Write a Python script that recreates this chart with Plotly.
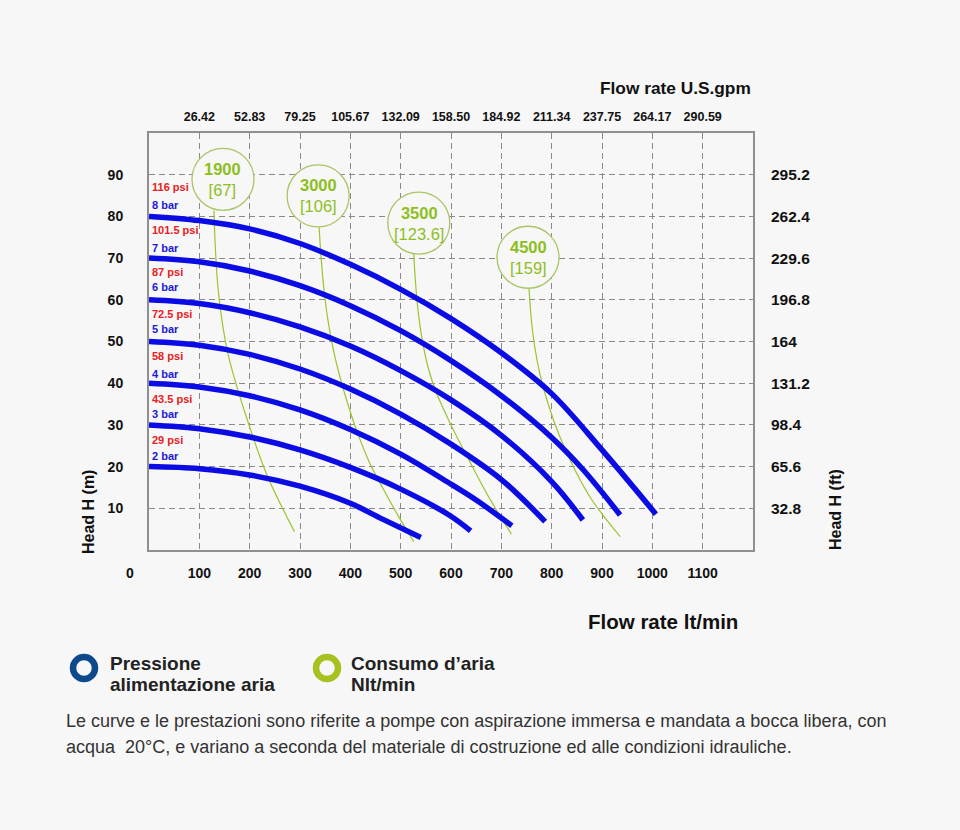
import plotly.graph_objects as go

# ---------------- data ----------------
flow_ticks = [100, 200, 300, 400, 500, 600, 700, 800, 900, 1000, 1100]
gpm_labels = ["26.42", "52.83", "79.25", "105.67", "132.09", "158.50", "184.92",
              "211.34", "237.75", "264.17", "290.59"]
head_ticks = [10, 20, 30, 40, 50, 60, 70, 80, 90]
ft_labels = ["32.8", "65.6", "98.4", "131.2", "164", "196.8", "229.6", "262.4", "295.2"]

# pressure curves (lt/min, m)
b8_x = [0, 100, 200, 300, 400, 500, 600, 700, 800, 900, 1007]
b8_y = [80, 79.0, 77.0, 73.5, 68.5, 62.5, 55.5, 47.3, 37.5, 24.0, 8.6]
b7_x = [0, 100, 200, 300, 400, 500, 600, 700, 800, 860, 936]
b7_y = [70, 69.1, 66.9, 63.4, 58.6, 52.6, 45.4, 37.0, 27.0, 19.6, 8.4]
b6_x = [0, 100, 200, 300, 400, 500, 600, 700, 800, 862]
b6_y = [60, 59.1, 56.9, 53.5, 48.9, 43.0, 36.0, 27.5, 16.4, 7.2]
b5_x = [0, 100, 200, 300, 400, 500, 600, 700, 787]
b5_y = [50, 49.1, 46.9, 43.4, 38.6, 32.6, 25.4, 16.9, 6.8]
b4_x = [0, 100, 200, 300, 400, 500, 600, 650, 721]
b4_y = [40, 39.1, 37.0, 33.6, 28.9, 23.0, 15.8, 12.0, 5.8]
b3_x = [0, 100, 200, 300, 400, 500, 596, 639]
b3_y = [30, 29.1, 27.1, 24.0, 19.8, 14.6, 8.4, 4.6]
b2_x = [0, 100, 200, 300, 400, 464, 540]
b2_y = [20, 19.5, 18.0, 15.3, 11.2, 7.4, 3.0]

pressure_x = [b8_x, b7_x, b6_x, b5_x, b4_x, b3_x, b2_x]
pressure_y = [b8_y, b7_y, b6_y, b5_y, b4_y, b3_y, b2_y]
bar_labels = ["8 bar", "7 bar", "6 bar", "5 bar", "4 bar", "3 bar", "2 bar"]
psi_labels = ["116 psi", "101.5 psi", "87 psi", "72.5 psi", "58 psi", "43.5 psi", "29 psi"]
bar_label_y = [82.7, 72.4, 63.0, 52.9, 42.1, 32.5, 22.6]
psi_label_y = [87.0, 76.7, 66.6, 56.7, 46.6, 36.3, 26.4]

# air consumption curves
g1900_x = [129, 132, 137, 145, 157, 175, 200, 236, 289]
g1900_y = [81.4, 72, 63, 55, 47, 39, 29.5, 17.5, 4.4]
g3000_x = [338, 342, 348, 357, 370, 390, 413, 438, 466, 496, 526]
g3000_y = [77.4, 70, 62, 54, 46, 37, 28.5, 21, 14.5, 8, 2]
g3500_x = [526, 529, 534, 542, 554, 570, 600, 636, 676, 720]
g3500_y = [71, 65, 58, 51, 44, 38, 30, 21.5, 12.5, 3.8]
g4500_x = [755, 759, 766, 777, 793, 815, 845, 880, 936]
g4500_y = [62.7, 56, 49, 42, 35, 27.5, 19.5, 12, 3.2]
air_x = [g1900_x, g3000_x, g3500_x, g4500_x]
air_y = [g1900_y, g3000_y, g3500_y, g4500_y]
air_main = ["1900", "3000", "3500", "4500"]
air_sub = ["[67]", "[106]", "[123.6]", "[159]"]
bubble_x = [147, 336, 536, 753]
bubble_y = [88.9, 84.9, 78.4, 70.2]

# ---------------- layout constants ----------------
W, H = 960, 830
L, R, T, B = 149, 753, 133, 550
BG = "#f7f7f7"
BLUE = "#0b0be4"
GREEN_LINE = "#9cc431"
GREEN_TXT = "#8dbf1e"
GREEN_CIRC = "#a9c564"
FONT = "Liberation Sans, Arial, sans-serif"


def px(xp):
    return (xp - L) / (R - L)


def py(yp):
    return (B - yp) / (B - T)


fig = go.Figure()

for xs, ys in zip(air_x, air_y):
    fig.add_trace(go.Scatter(x=xs, y=ys, mode="lines", line=dict(color=GREEN_LINE, width=1.2, shape="spline"),
                             hoverinfo="skip", showlegend=False))
for xs, ys in zip(pressure_x, pressure_y):
    fig.add_trace(go.Scatter(x=xs, y=ys, mode="lines", line=dict(color=BLUE, width=5.5, shape="spline"),
                             hoverinfo="skip", showlegend=False))

# invisible trace for secondary axes
fig.add_trace(go.Scatter(x=[0], y=[0], xaxis="x2", yaxis="y2", mode="markers",
                         marker=dict(opacity=0), hoverinfo="skip", showlegend=False))

grid = dict(showgrid=True, gridcolor="#8a8a8a", gridwidth=1, griddash="6px,4px")
fig.update_layout(
    width=W, height=H,
    margin=dict(l=L, r=W - R, t=T, b=H - B, pad=0),
    paper_bgcolor=BG, plot_bgcolor=BG,
    font=dict(family=FONT, color="#111"),
    xaxis=dict(range=[0, 1200], tickvals=flow_ticks, ticktext=[str(v) for v in flow_ticks],
               tickfont=dict(size=14, weight="bold", color="#111"), ticks="", ticklabelstandoff=9,
               showline=True, linecolor="#8f8f8f", linewidth=2, mirror=True, zeroline=False, **grid),
    yaxis=dict(range=[0, 100], tickvals=head_ticks, ticktext=[str(v) for v in head_ticks],
               tickfont=dict(size=14, weight="bold", color="#111"), ticks="", ticklabelstandoff=21,
               showline=True, linecolor="#8f8f8f", linewidth=2, mirror=True, zeroline=False, **grid),
    xaxis2=dict(range=[0, 1200], overlaying="x", side="top", tickvals=flow_ticks, ticktext=gpm_labels,
                tickfont=dict(size=12.5, weight="bold", color="#111"), ticks="", ticklabelstandoff=9,
                showgrid=False, zeroline=False, showline=False),
    yaxis2=dict(range=[0, 100], overlaying="y", side="right", tickvals=head_ticks, ticktext=ft_labels,
                tickfont=dict(size=15.5, weight="bold", color="#111"), ticks="", ticklabelstandoff=17,
                showgrid=False, zeroline=False, showline=False),
)

shapes = []
for bx, by in zip(bubble_x, bubble_y):
    shapes.append(dict(type="circle", xref="x", yref="y", xsizemode="pixel", ysizemode="pixel",
                       xanchor=bx, yanchor=by, x0=-31, x1=31, y0=-31, y1=31,
                       line=dict(color=GREEN_CIRC, width=1.3), fillcolor=BG, layer="above"))
# legend rings
shapes.append(dict(type="circle", xref="paper", yref="paper", xsizemode="pixel", ysizemode="pixel",
                   xanchor=px(84), yanchor=py(668), x0=-11, x1=11, y0=-11, y1=11,
                   line=dict(color="#0d4a8c", width=6.5)))
shapes.append(dict(type="circle", xref="paper", yref="paper", xsizemode="pixel", ysizemode="pixel",
                   xanchor=px(327), yanchor=py(668), x0=-11, x1=11, y0=-11, y1=11,
                   line=dict(color="#a8c11e", width=6.5)))
fig.update_layout(shapes=shapes)

ann = []
for m, s, bx, by in zip(air_main, air_sub, bubble_x, bubble_y):
    ann.append(dict(x=bx, y=by, xref="x", yref="y", text=f"<b>{m}</b><br>{s}", showarrow=False,
                    xanchor="center", yanchor="middle",
                    font=dict(size=16.5, color=GREEN_TXT, family=FONT), align="center"))
for t, yv in zip(bar_labels, bar_label_y):
    ann.append(dict(x=2, y=yv, xref="x", yref="y", text=t, showarrow=False, xanchor="left", yanchor="middle",
                    font=dict(size=11, color="#1a1ad8", family=FONT, weight="bold")))
for t, yv in zip(psi_labels, psi_label_y):
    ann.append(dict(x=2, y=yv, xref="x", yref="y", text=t, showarrow=False, xanchor="left", yanchor="middle",
                    font=dict(size=11, color="#e82020", family=FONT, weight="bold")))


def pann(xp, yp, text, size, xanchor="center", angle=0, bold=True, color="#111", align="left"):
    d = dict(x=px(xp), y=py(yp), xref="paper", yref="paper", text=text, showarrow=False,
             xanchor=xanchor, yanchor="middle", align=align, textangle=angle,
             font=dict(size=size, color=color, weight="bold" if bold else "normal"))
    ann.append(d)


# axis titles
pann(753, 88, "Flow rate U.S.gpm", 17.3, xanchor="right")
pann(740, 621, "Flow rate lt/min", 20.5, xanchor="right")
pann(88, 512, "Head H (m)", 16, angle=-90)
pann(835, 510, "Head H (ft)", 16, angle=-90)
pann(130, 573, "0", 14)

# legend text
pann(108, 663, "Pressione", 19, xanchor="left", color="#222")
pann(108, 684, "alimentazione aria", 19, xanchor="left", color="#222")
pann(349, 663, "Consumo d’aria", 19, xanchor="left", color="#222")
pann(349, 684, "Nlt/min", 19, xanchor="left", color="#222")

# footnote
pann(64, 721, "Le curve e le prestazioni sono riferite a pompe con aspirazione immersa e mandata a bocca libera, con",
     18, xanchor="left", bold=False, color="#333")
pann(64, 747, "acqua  20°C, e variano a seconda del materiale di costruzione ed alle condizioni idrauliche.",
     18, xanchor="left", bold=False, color="#333")

fig.update_layout(annotations=ann)
fig.write_html("out.html")
